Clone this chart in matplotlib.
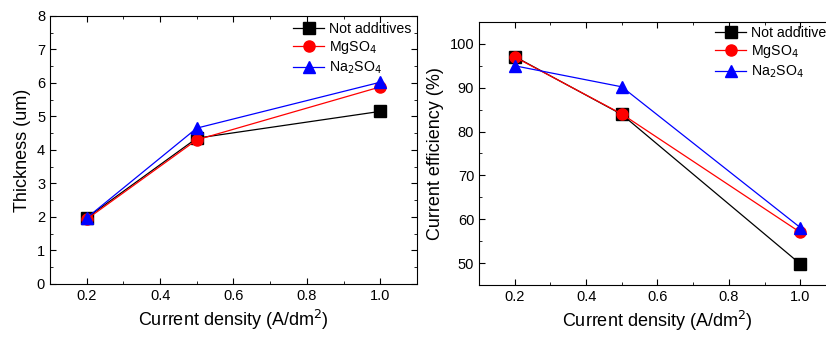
import matplotlib
matplotlib.use('Agg')
import matplotlib.pyplot as plt
from matplotlib.ticker import MultipleLocator

plt.rcParams['font.family'] = ['Liberation Sans', 'DejaVu Sans']

current = [0.2, 0.5, 1.0]
labels = ['Not additives', 'MgSO$_4$', 'Na$_2$SO$_4$']

thick_none = [1.97, 4.35, 5.15]
thick_mg = [1.93, 4.30, 5.88]
thick_na = [1.97, 4.65, 6.02]

eff_none = [97.1, 83.9, 49.8]
eff_mg = [97.0, 84.0, 57.0]
eff_na = [95.0, 90.2, 58.1]

styles = [('black', 's'), ('red', 'o'), ('blue', '^')]

fig = plt.figure(figsize=(8.26, 3.38), dpi=100)
ax1 = fig.add_axes([0.0605, 0.160, 0.4443, 0.793])
# right panel runs past the figure edge, as in the original
ax2 = fig.add_axes([0.580, 0.157, 0.432, 0.778])


def draw(ax, series, anchor):
    for vals, lab, (c, m) in zip(series, labels, styles):
        ax.plot(current, vals, color=c, marker=m, markersize=8, linewidth=0.9,
                label=lab)
    ax.set_xlim(0.1, 1.1)
    ax.xaxis.set_minor_locator(MultipleLocator(0.1))
    ax.set_xticks([0.2, 0.4, 0.6, 0.8, 1.0])
    ax.set_xticklabels(['0.2', '0.4', '0.6', '0.8', '1.0'])
    ax.tick_params(which='both', direction='in', top=True, right=True,
                   labelsize=10.5)
    ax.tick_params(which='major', length=4)
    ax.tick_params(which='minor', length=2.5)
    ax.set_xlabel('Current density (A/dm$^2$)', fontsize=13)
    ax.legend(loc='upper left', bbox_to_anchor=anchor, frameon=False,
              fontsize=10.2, handlelength=2.2, handletextpad=0.35,
              labelspacing=0.25, borderpad=0, borderaxespad=0, numpoints=1)


draw(ax1, [thick_none, thick_mg, thick_na], (0.662, 0.978))
ax1.set_ylim(0, 8)
ax1.yaxis.set_major_locator(MultipleLocator(1))
ax1.yaxis.set_minor_locator(MultipleLocator(0.5))
ax1.set_ylabel('Thickness (um)', fontsize=13)

draw(ax2, [eff_none, eff_mg, eff_na], (0.661, 0.985))
ax2.set_ylim(45, 105)
ax2.yaxis.set_minor_locator(MultipleLocator(5))
ax2.set_yticks([50, 60, 70, 80, 90, 100])
ax2.set_ylabel('Current efficiency (%)', fontsize=13)

fig.savefig('out.png', dpi=100)
